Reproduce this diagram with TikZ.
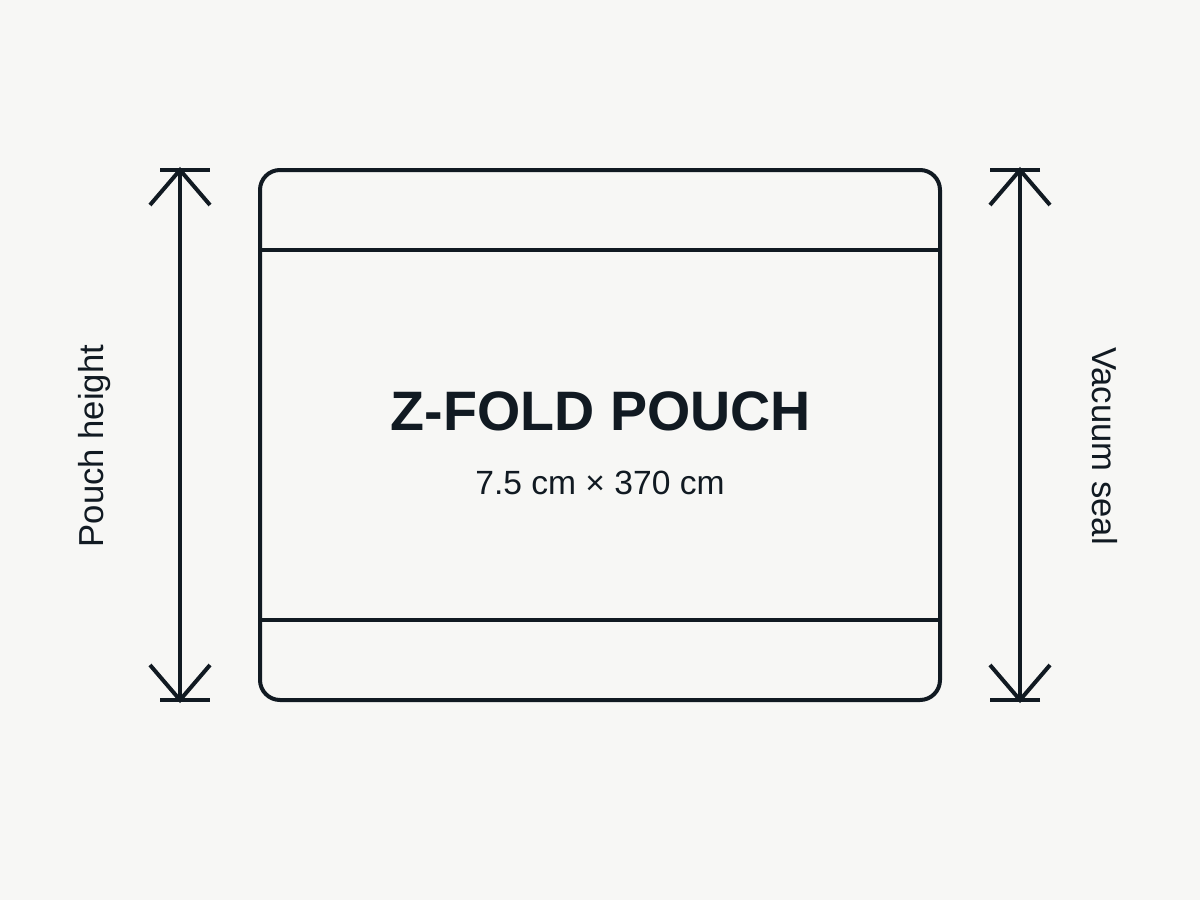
\documentclass[tikz,border=0pt]{standalone}
\usepackage{fontspec}
\setmainfont{Liberation Sans}
\definecolor{ink}{HTML}{111A22}
\definecolor{paper}{HTML}{F7F7F5}

\tikzstyle{inkline}=[draw=ink,line width=3pt]
\tikzstyle{pouch}=[inkline,rectangle,rounded corners=15pt,minimum width=510pt,minimum height=397.5pt,inner sep=0pt]
\tikzstyle{sidelabel}=[text=ink,font=\fontsize{26}{30}\selectfont,inner sep=0pt]

\begin{document}
\begin{tikzpicture}[x=0.75pt,y=-0.75pt]
    \fill[paper] (0,0) rectangle (1200,900);
    %Pouch outline and seal lines
    \node[pouch] (pouch) at (600,435) {};
    \draw[inkline] ([yshift=-61.5pt]pouch.north west) -- ([yshift=-61.5pt]pouch.north east);
    \draw[inkline] ([yshift=61.5pt]pouch.south west) -- ([yshift=61.5pt]pouch.south east);
    %Texts
    \node[text=ink,font=\bfseries\fontsize{41.7}{50}\selectfont] (title) at (601,411) {Z-FOLD POUCH};
    \node[text=ink,font=\fontsize{25.2}{30}\selectfont] (size) at (600,483) {7.5 cm × 370 cm};
    %Dimension arrows
    \foreach \x/\s/\name in {180/1/hgt, 1020/-1/seal}{
        \coordinate (\name top) at (\x,170);
        \coordinate (\name bot) at (\x,700);
        \draw[inkline] (\name top) -- (\name bot);
        \draw[inkline] ([xshift=-15pt*\s]\name top) -- ([xshift=22.5pt*\s]\name top);
        \draw[inkline] ([xshift=-15pt*\s]\name bot) -- ([xshift=22.5pt*\s]\name bot);
        \draw[inkline] ([xshift=-22.5pt,yshift=-26.25pt]\name top) -- (\name top) -- ([xshift=22.5pt,yshift=-26.25pt]\name top);
        \draw[inkline] ([xshift=-22.5pt,yshift=26.25pt]\name bot) -- (\name bot) -- ([xshift=22.5pt,yshift=26.25pt]\name bot);
    }
    \node[sidelabel,rotate=90] (hgtlabel) at (95,446) {Pouch height};
    \node[sidelabel,rotate=-90] (seallabel) at (1105,446) {Vacuum seal};
\end{tikzpicture}
\end{document}
